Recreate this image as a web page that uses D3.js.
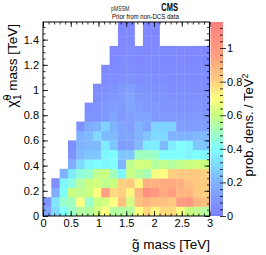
<!DOCTYPE html>
<html>
<head>
<meta charset="utf-8">
<script src="https://cdn.jsdelivr.net/npm/d3@7"></script>
<style>
  body { margin: 0; background: #fff; }
  text { font-family: "Liberation Sans", Arial, sans-serif; }
</style>
</head>
<body>
<div id="my_dataviz"></div>
<script>
// bin layout of the histogram (TeV)
var binW = 0.15, binH = 0.075;

// prob. density per bin, row 0 = lowest neutralino mass bin, col 0 = lowest gluino bin
// null = empty bin
var density = [
  [0.15,0.3,0.4,0.48,0.55,0.55,0.62,0.7,0.55,0.55,0.55,0.7,0.78,0.72,0.78,0.78,0.7,0.6,0.58,0.55],
  [0.08,0.33,0.48,0.5,0.7,0.48,0.6,0.62,0.7,0.85,0.62,0.85,0.88,0.85,0.85,0.82,0.98,1.0,0.88,0.85],
  [null,0.18,0.4,0.6,0.58,0.6,0.7,0.95,0.78,0.8,0.72,0.88,1.05,1.0,0.92,0.95,0.88,0.88,0.82,0.8],
  [null,0.06,0.38,0.45,0.55,0.6,0.62,0.58,0.6,0.8,0.82,0.72,0.9,0.9,0.92,0.92,0.9,0.85,0.82,0.82],
  [null,null,0.2,0.35,0.45,0.48,0.58,0.6,0.5,0.38,0.6,0.55,0.52,0.68,0.7,0.8,0.82,0.82,0.82,0.8],
  [null,null,null,0.18,0.3,0.38,0.4,0.38,0.4,0.2,0.58,0.62,0.62,0.55,0.58,0.55,0.58,0.6,0.62,0.6],
  [null,null,null,0.08,0.22,0.25,0.25,0.38,0.4,0.25,0.25,0.5,0.5,0.48,0.4,0.4,0.4,0.38,0.4,0.38],
  [null,null,null,0.06,0.2,0.22,0.22,0.35,0.25,0.12,0.12,0.22,0.35,0.35,0.22,0.35,0.4,0.38,0.25,0.25],
  [null,null,null,null,0.2,0.22,0.3,0.22,0.22,0.15,0.15,0.2,0.25,0.3,0.3,0.2,0.2,0.2,0.22,0.22],
  [null,null,null,null,0.08,0.18,0.2,0.28,0.2,0.15,0.12,0.2,0.15,0.28,0.28,0.28,0.12,0.12,0.12,0.12],
  [null,null,null,null,null,0.08,0.08,0.1,0.15,0.1,0.12,0.15,0.15,0.1,0.1,0.1,0.1,0.1,0.1,0.1],
  [null,null,null,null,null,0.06,0.08,0.1,0.12,0.1,0.15,0.12,0.1,0.1,0.08,0.08,0.08,0.08,0.08,0.08],
  [null,null,null,null,null,null,0.06,0.08,0.1,0.12,0.15,0.1,0.1,0.08,0.08,0.07,0.07,0.07,0.07,0.07],
  [null,null,null,null,null,null,0.05,0.07,0.08,0.1,0.12,0.08,0.08,0.07,0.07,0.06,0.06,0.06,0.06,0.06],
  [null,null,null,null,null,null,null,0.05,0.06,0.07,0.08,0.06,0.07,0.06,0.06,0.05,0.05,0.05,0.05,0.05],
  [null,null,null,null,null,null,null,0.04,0.05,0.06,0.07,0.05,0.06,0.05,0.05,0.05,0.05,0.05,0.05,0.05],
  [null,null,null,null,null,null,null,null,0.04,0.05,0.05,0.04,0.05,0.05,0.04,0.04,0.04,0.04,0.04,0.04],
  [null,null,null,null,null,null,null,null,0.04,0.04,0.05,0.04,0.04,0.05,0.04,0.04,0.04,0.04,0.04,0.04],
  [null,null,null,null,null,null,null,null,null,0.04,0.04,null,0.04,0.04,null,null,null,null,null,null],
  [null,null,null,null,null,null,null,null,null,0.03,0.04,null,0.04,0.03,null,null,null,null,null,null],
  [null,null,null,null,null,null,null,null,null,0.03,0.03,null,0.03,0.03,null,null,null,null,null,null]
];

var xTicks = [0, 0.5, 1, 1.5, 2, 2.5, 3];
var yTicks = [0, 0.2, 0.4, 0.6, 0.8, 1, 1.2, 1.4];
var zTicks = [0, 0.2, 0.4, 0.6, 0.8, 1];

// palette stops (value -> colour)
var zStops = [0, 0.2, 0.4, 0.5, 0.6, 0.7, 0.8, 0.95, 1.155];
var zColors = ["#7f7fff", "#7fb2ff", "#80ffff", "#a0ffbf", "#c8ff80", "#ffff80", "#ffd080", "#ffa080", "#ff7f7f"];

var W = 266, H = 255;
var plot = {left: 43, right: 209.5, top: 22, bottom: 216};
var cbar = {left: 210.5, right: 223};

var svg = d3.select("#my_dataviz").append("svg")
    .attr("width", W).attr("height", H);

var x = d3.scaleLinear().domain([0, 3]).range([plot.left, plot.right]);
var y = d3.scaleLinear().domain([0, 1.54]).range([plot.bottom, plot.top]);
var z = d3.scaleLinear().domain([0, 1.155]).range([plot.bottom, plot.top]);
var color = d3.scaleLinear().domain(zStops).range(zColors).clamp(true);

svg.append("clipPath").attr("id", "clip")
  .append("rect")
    .attr("x", plot.left).attr("y", plot.top)
    .attr("width", plot.right - plot.left).attr("height", plot.bottom - plot.top);

// flatten bins
var cells = [];
density.forEach(function(row, j) {
  row.forEach(function(v, i) {
    if (v != null) cells.push({i: i, j: j, v: v});
  });
});

svg.append("g").attr("clip-path", "url(#clip)")
  .selectAll("rect")
  .data(cells)
  .enter().append("rect")
    .attr("x", function(d) { return x(d.i * binW); })
    .attr("y", function(d) { return y((d.j + 1) * binH); })
    .attr("width", function(d) { return x((d.i + 1) * binW) - x(d.i * binW) + 0.3; })
    .attr("height", function(d) { return y(d.j * binH) - y((d.j + 1) * binH) + 0.3; })
    .attr("fill", function(d) { return color(d.v); });

// colour bar
var grad = svg.append("defs").append("linearGradient")
    .attr("id", "zgrad").attr("x1", 0).attr("y1", 1).attr("x2", 0).attr("y2", 0);
zStops.forEach(function(s, k) {
  grad.append("stop").attr("offset", s / 1.155).attr("stop-color", zColors[k]);
});
svg.append("rect")
    .attr("x", cbar.left).attr("y", plot.top)
    .attr("width", cbar.right - cbar.left).attr("height", plot.bottom - plot.top)
    .attr("fill", "url(#zgrad)");

// axes helper: major + minor ticks, ROOT style (inward)
function ticksOnly(axisFn, scale, vals, size) {
  return axisFn(scale).tickValues(vals).tickSize(size).tickFormat("");
}
function minor(lo, hi, step) {
  var out = [];
  for (var v = lo; v <= hi + 1e-9; v += step) out.push(+v.toFixed(4));
  return out;
}

var fmt = function(d) { return d3.format("")(+d.toFixed(1)); };

// bottom
var gx = svg.append("g").attr("transform", "translate(0," + plot.bottom + ")");
gx.call(d3.axisBottom(x).tickValues(xTicks).tickSize(-5).tickPadding(3).tickFormat(fmt));
gx.append("g").call(ticksOnly(d3.axisBottom, x, minor(0, 3, 0.1), -2.5));
// top
var gxt = svg.append("g").attr("transform", "translate(0," + plot.top + ")");
gxt.call(ticksOnly(d3.axisTop, x, xTicks, -5));
gxt.append("g").call(ticksOnly(d3.axisTop, x, minor(0, 3, 0.1), -2.5));
// left
var gy = svg.append("g").attr("transform", "translate(" + plot.left + ",0)");
gy.call(d3.axisLeft(y).tickValues(yTicks).tickSize(-5).tickPadding(4).tickFormat(fmt));
gy.append("g").call(ticksOnly(d3.axisLeft, y, minor(0, 1.5, 0.05), -2.5));
// right
var gyr = svg.append("g").attr("transform", "translate(" + plot.right + ",0)");
gyr.call(ticksOnly(d3.axisRight, y, yTicks, -5));
gyr.append("g").call(ticksOnly(d3.axisRight, y, minor(0, 1.5, 0.05), -2.5));
// colour bar axis
var gz = svg.append("g").attr("transform", "translate(" + cbar.right + ",0)");
gz.call(d3.axisRight(z).tickValues(zTicks).tickSize(3).tickPadding(1).tickFormat(fmt));
gz.append("g").call(ticksOnly(d3.axisRight, z, minor(0, 1.15, 0.04), -3));

svg.selectAll(".domain").remove();
svg.selectAll(".tick line").attr("stroke", "#000").attr("stroke-width", 0.8);
svg.selectAll(".tick text").attr("font-size", 11).attr("fill", "#000")
    .style("font-family", "'Liberation Sans', Arial, sans-serif");

// frame
svg.append("rect")
    .attr("x", plot.left).attr("y", plot.top)
    .attr("width", plot.right - plot.left).attr("height", plot.bottom - plot.top)
    .attr("fill", "none").attr("stroke", "#000").attr("stroke-width", 1);

// axis titles
svg.append("text")
    .attr("x", 210).attr("y", 249)
    .attr("text-anchor", "end").attr("font-size", 13.5)
    .text("g\u0303 mass [TeV]");

var yt = svg.append("text")
    .attr("transform", "translate(17,24) rotate(-90)")
    .attr("text-anchor", "end").attr("font-size", 13.5);
yt.append("tspan").attr("font-size", 14.5).text("\u03C7\u0303");
yt.append("tspan").attr("font-size", 10).attr("dy", -6).text("0");
yt.append("tspan").attr("font-size", 10).attr("dx", -5.5).attr("dy", 10).text("1");
yt.append("tspan").attr("dy", -4).text(" mass [TeV]");

var zt = svg.append("text")
    .attr("transform", "translate(253,125) rotate(-90)")
    .attr("text-anchor", "middle").attr("font-size", 13);
zt.append("tspan").text("prob. dens. / TeV");
zt.append("tspan").attr("font-size", 9).attr("dy", -5).text("2");

// header (narrow text in the original)
svg.append("text").attr("transform", "translate(111,10.5) scale(0.72,1)")
    .attr("font-size", 7.2).attr("fill", "#222").text("pMSSM");
svg.append("text").attr("transform", "translate(112,19) scale(0.76,1)")
    .attr("font-size", 8).text("Prior from non-DCS data");
svg.append("text").attr("transform", "translate(178,10.5) scale(0.75,1)")
    .attr("text-anchor", "end")
    .attr("font-size", 10).attr("font-weight", "bold").text("CMS");
</script>
</body>
</html>
